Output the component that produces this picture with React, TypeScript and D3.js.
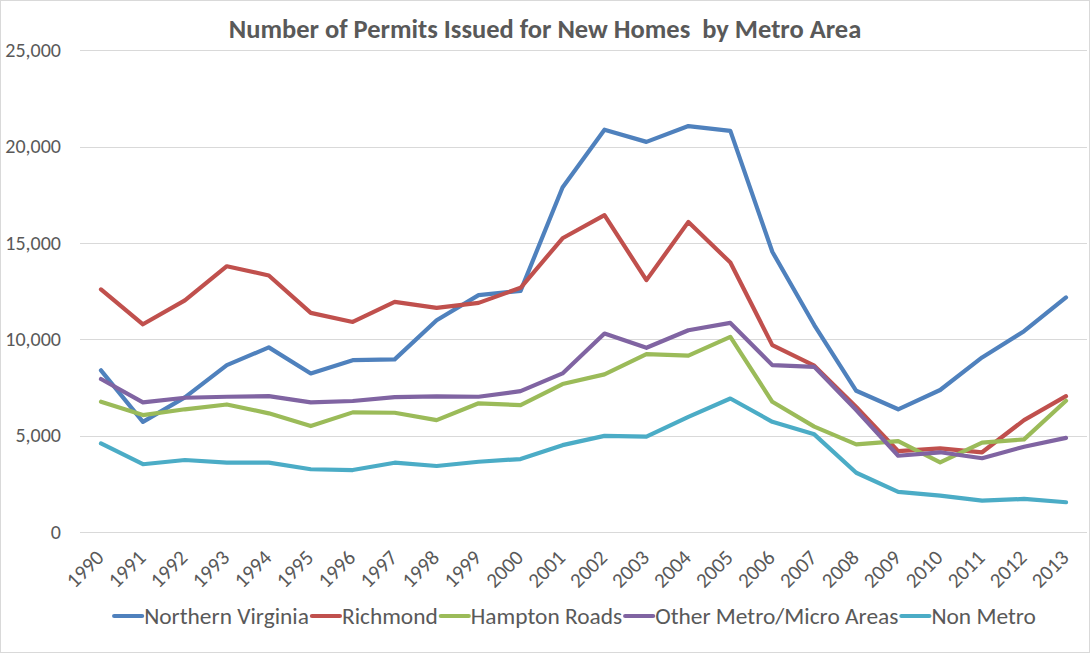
import React, { useEffect, useRef } from "react";
import * as d3 from "d3";

const years = [
  "1990", "1991", "1992", "1993", "1994", "1995", "1996", "1997", "1998", "1999", "2000", "2001",
  "2002", "2003", "2004", "2005", "2006", "2007", "2008", "2009", "2010", "2011", "2012", "2013",
];

const northernVirginia = [
  8400, 5730, 7000, 8670, 9590, 8240, 8930, 8970, 11000, 12300, 12520, 17880,
  20880, 20250, 21070, 20820, 14550, 10750, 7340, 6380, 7380, 9070, 10430, 12180,
];
const richmond = [
  12600, 10790, 12030, 13800, 13320, 11380, 10910, 11950, 11640, 11900, 12680, 15250,
  16450, 13080, 16100, 13990, 9710, 8640, 6500, 4210, 4350, 4150, 5820, 7060,
];
const hamptonRoads = [
  6770, 6080, 6380, 6630, 6170, 5510, 6220, 6200, 5820, 6690, 6600, 7690,
  8190, 9240, 9160, 10140, 6770, 5480, 4560, 4730, 3630, 4650, 4820, 6820,
];
const otherMetroMicro = [
  7950, 6740, 6980, 7030, 7060, 6740, 6810, 7010, 7050, 7030, 7320, 8240,
  10310, 9570, 10480, 10860, 8670, 8580, 6340, 3970, 4150, 3840, 4440, 4900,
];
const nonMetro = [
  4610, 3530, 3750, 3610, 3610, 3270, 3230, 3610, 3440, 3660, 3800, 4520,
  5000, 4960, 5990, 6940, 5730, 5080, 3090, 2100, 1900, 1640, 1730, 1560,
];

const seriesNames = [
  "Northern Virginia",
  "Richmond",
  "Hampton Roads",
  "Other Metro/Micro Areas",
  "Non Metro",
];
const seriesValues = [northernVirginia, richmond, hamptonRoads, otherMetroMicro, nonMetro];
const seriesColors = ["#4F81BD", "#C0504D", "#9BBB59", "#8064A2", "#4BACC6"];

const yTicks = [0, 5000, 10000, 15000, 20000, 25000];
const title = "Number of Permits Issued for New Homes\u00a0 by Metro Area";

const FONT = "Carlito, Calibri, 'Liberation Sans Narrow', 'Roboto Condensed', Roboto, sans-serif";
const W = 1090;
const H = 653;

export default function App() {
  const ref = useRef<SVGSVGElement>(null);

  useEffect(() => {
    const svg = d3.select(ref.current);
    svg.selectAll("*").remove();

    const left = 80;
    const right = 1087;
    const top = 50.3;
    const bottom = 532.3;

    const x = d3.scaleBand<string>().domain(years).range([left, right]);
    const y = d3.scaleLinear().domain([0, 25000]).range([bottom, top]);
    const cx = (d: string) => (x(d) as number) + x.bandwidth() / 2;

    svg
      .append("rect")
      .attr("x", 0.5)
      .attr("y", 0.5)
      .attr("width", W - 1)
      .attr("height", H - 1)
      .attr("fill", "#fff")
      .attr("stroke", "#d9d9d9");

    // title
    svg
      .append("text")
      .attr("x", 545)
      .attr("y", 38)
      .attr("text-anchor", "middle")
      .attr("font-family", FONT)
      .attr("font-weight", "bold")
      .attr("font-size", 26.5)
      .attr("fill", "#595959")
      .text(title);

    // gridlines
    svg
      .append("g")
      .selectAll("line")
      .data(yTicks)
      .join("line")
      .attr("x1", left)
      .attr("x2", right)
      .attr("y1", (d) => Math.round(y(d)) + 0.5)
      .attr("y2", (d) => Math.round(y(d)) + 0.5)
      .attr("stroke", "#d9d9d9")
      .attr("stroke-width", 1);

    // y labels
    svg
      .append("g")
      .selectAll("text")
      .data(yTicks)
      .join("text")
      .attr("x", 61)
      .attr("y", (d) => y(d))
      .attr("dy", "0.32em")
      .attr("text-anchor", "end")
      .attr("font-family", FONT)
      .attr("font-size", 20)
      .attr("fill", "#595959")
      .text((d) => d3.format(",")(d));

    // x labels
    svg
      .append("g")
      .selectAll("text")
      .data(years)
      .join("text")
      .attr("transform", (d) => `translate(${cx(d) + 4},${559}) rotate(-45)`)
      .attr("text-anchor", "end")
      .attr("font-family", FONT)
      .attr("font-size", 21)
      .attr("fill", "#595959")
      .text((d) => d);

    // lines
    const line = d3
      .line<number>()
      .x((_, i) => cx(years[i]))
      .y((d) => y(d));

    svg
      .append("g")
      .selectAll("path")
      .data(seriesValues)
      .join("path")
      .attr("d", (d) => line(d))
      .attr("fill", "none")
      .attr("stroke", (_, i) => seriesColors[i])
      .attr("stroke-width", 4.2)
      .attr("stroke-linejoin", "round")
      .attr("stroke-linecap", "round");

    // legend
    const lg = svg.append("g");
    const ly = 616;
    const items = seriesNames.map((name, i) => {
      const g = lg.append("g");
      g.append("line")
        .attr("x1", 1)
        .attr("x2", 29)
        .attr("y1", ly)
        .attr("y2", ly)
        .attr("stroke", seriesColors[i])
        .attr("stroke-width", 4.2)
        .attr("stroke-linecap", "round");
      const t = g
        .append("text")
        .attr("x", 31)
        .attr("y", ly)
        .attr("dy", "0.34em")
        .attr("font-family", FONT)
        .attr("font-size", 23.4)
        .attr("fill", "#595959")
        .text(name);
      const w = (t.node() as SVGTextElement).getComputedTextLength();
      return { g, w: 31 + w };
    });
    const gap = 2;
    const total = d3.sum(items, (d) => d.w) + gap * (items.length - 1);
    let pos = 574.5 - total / 2;
    items.forEach((it) => {
      it.g.attr("transform", `translate(${pos},0)`);
      pos += it.w + gap;
    });
  }, []);

  return (
    <svg
      ref={ref}
      width={W}
      height={H}
      style={{ position: "absolute", left: 0, top: 0, background: "#fff" }}
    />
  );
}
